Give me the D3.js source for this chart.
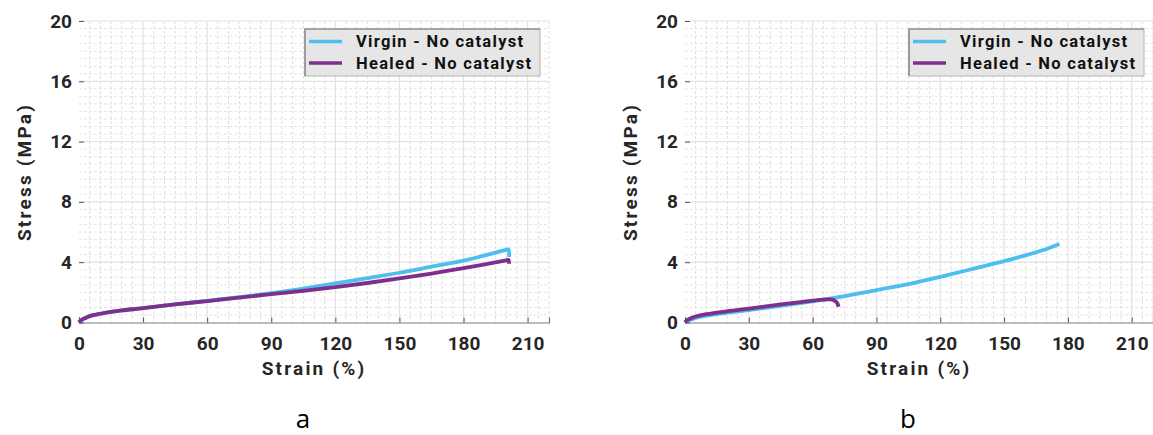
<!DOCTYPE html>
<html>
<head>
<meta charset="utf-8">
<script src="https://cdn.jsdelivr.net/npm/d3@7"></script>
<style>
  html, body { margin: 0; padding: 0; background: #fff; }
  svg { display: block; }
  .tick-label { font-family: Roboto, "Liberation Sans", sans-serif; font-weight: 700; font-size: 19px; fill: #262626; }
  .axis-title { font-family: Roboto, sans-serif; font-weight: 700; font-size: 19px; fill: #262626; letter-spacing: 2.2px; }
  .legend-text { font-family: Roboto, sans-serif; font-weight: 700; font-size: 16.5px; fill: #111; letter-spacing: 1.3px; }
  .panel-label { font-family: "Open Sans", "Liberation Sans", sans-serif; font-size: 26px; fill: #000; }
</style>
</head>
<body>
<svg id="chart" width="1153" height="435"></svg>
<script>
// ── Data ─────────────────────────────────────────────────────────────────────
const xTicks = [0, 30, 60, 90, 120, 150, 180, 210];
const yTicks = [0, 4, 8, 12, 16, 20];
const seriesNames = ['Virgin - No catalyst', 'Healed - No catalyst'];
const seriesColors = ['#4dbeee', '#7e2f8e'];

// panel a
const strainVirginA = [0, 1, 3, 5, 10, 15, 20, 30, 45, 60, 75, 90, 105, 120, 135, 150, 165, 180, 190, 200, 201, 201.3];
const stressVirginA = [0, 0.15, 0.3, 0.42, 0.58, 0.7, 0.8, 0.95, 1.2, 1.44, 1.68, 1.95, 2.25, 2.6, 2.95, 3.3, 3.7, 4.1, 4.45, 4.82, 4.85, 4.35];
const strainHealedA = [0, 1, 3, 5, 10, 15, 20, 30, 45, 60, 75, 90, 105, 120, 135, 150, 165, 180, 190, 200, 201, 201.3];
const stressHealedA = [0, 0.15, 0.3, 0.42, 0.58, 0.7, 0.8, 0.95, 1.2, 1.42, 1.65, 1.88, 2.1, 2.35, 2.62, 2.92, 3.25, 3.6, 3.85, 4.12, 4.15, 3.9];

// panel b
const strainVirginB = [0, 1, 3, 5, 10, 20, 30, 45, 60, 75, 90, 105, 120, 135, 150, 160, 170, 176];
const stressVirginB = [0, 0.1, 0.2, 0.3, 0.45, 0.65, 0.82, 1.1, 1.4, 1.75, 2.15, 2.55, 3.03, 3.55, 4.07, 4.45, 4.88, 5.2];
const strainHealedB = [0, 1, 3, 5, 10, 20, 30, 45, 60, 65, 68, 70, 71.5, 72.2];
const stressHealedB = [0, 0.15, 0.3, 0.4, 0.55, 0.75, 0.92, 1.2, 1.45, 1.52, 1.53, 1.48, 1.3, 1.05];

const panels = [
  { label: 'a', left: 79, right: 549, series: [[strainVirginA, stressVirginA], [strainHealedA, stressHealedA]] },
  { label: 'b', left: 685, right: 1153, series: [[strainVirginB, stressVirginB], [strainHealedB, stressHealedB]] }
];

const plotTop = 21, plotBottom = 322.5;
const svg = d3.select('#chart');

panels.forEach(p => {
  const x = d3.scaleLinear().domain([0, 220]).range([p.left, p.right]);
  const y = d3.scaleLinear().domain([0, 20]).range([plotBottom, plotTop]);
  const g = svg.append('g');

  // ── minor grid (dashed) ──
  g.append('g').selectAll('line').data(d3.range(5, 221, 5).filter(v => v % 30 !== 0))
    .join('line')
    .attr('x1', d => x(d)).attr('x2', d => x(d))
    .attr('y1', plotTop).attr('y2', plotBottom)
    .attr('stroke', '#dadada').attr('stroke-dasharray', '3,2').attr('stroke-width', 0.9);
  g.append('g').selectAll('line').data(d3.range(0.5, 20, 0.5).filter(v => v % 4 !== 0))
    .join('line')
    .attr('x1', p.left).attr('x2', p.right)
    .attr('y1', d => y(d)).attr('y2', d => y(d))
    .attr('stroke', '#dedede').attr('stroke-dasharray', '3,2').attr('stroke-width', 0.8);

  // ── major grid (solid) ──
  g.append('g').selectAll('line').data(xTicks.slice(1))
    .join('line')
    .attr('x1', d => x(d)).attr('x2', d => x(d))
    .attr('y1', plotTop).attr('y2', plotBottom)
    .attr('stroke', '#e2e2e2').attr('stroke-width', 1.2);
  g.append('g').selectAll('line').data(yTicks.slice(1))
    .join('line')
    .attr('x1', p.left).attr('x2', p.right)
    .attr('y1', d => y(d)).attr('y2', d => y(d))
    .attr('stroke', '#e2e2e2').attr('stroke-width', 1.2);

  // ── axes ──
  const xAxis = d3.axisBottom(x).tickValues(xTicks).tickSize(-5).tickPadding(8);
  const xg = g.append('g').attr('transform', `translate(0,${plotBottom})`).call(xAxis);
  xg.attr('font-size', null).attr('font-family', null);
  xg.select('.domain').attr('stroke', '#7a7a7a').attr('stroke-width', 1.2);
  xg.selectAll('.tick line').attr('stroke', '#555');
  xg.selectAll('.tick text').attr('class', 'tick-label').attr('dy', null).attr('y', 27);

  const yAxis = d3.axisLeft(y).tickValues(yTicks).tickSize(-5).tickPadding(8);
  const yg = g.append('g').attr('transform', `translate(${p.left},0)`).call(yAxis);
  yg.attr('font-size', null).attr('font-family', null);
  yg.select('.domain').remove();
  yg.selectAll('.tick line').attr('stroke', '#555');
  yg.selectAll('.tick text').attr('class', 'tick-label').attr('x', -7);

  // ── curves ──
  const line = d3.line().x(d => x(d[0])).y(d => y(d[1])).curve(d3.curveCatmullRom.alpha(0.5));
  p.series.forEach(([xs, ys], i) => {
    g.append('path')
      .datum(xs.map((v, k) => [v, ys[k]]))
      .attr('d', line)
      .attr('fill', 'none')
      .attr('stroke', seriesColors[i])
      .attr('stroke-width', 3.8)
      .attr('stroke-linejoin', 'round');
  });

  // ── axis titles ──
  g.append('text').attr('class', 'axis-title')
    .attr('x', (p.left + p.right) / 2).attr('y', 375)
    .attr('text-anchor', 'middle').text('Strain (%)');
  g.append('text').attr('class', 'axis-title')
    .attr('transform', `translate(${p.left - 48},${172}) rotate(-90)`)
    .attr('text-anchor', 'middle').text('Stress (MPa)');

  // ── legend ──
  const lx = p.right - 244, ly = 29, lw = 235, lh = 47;
  const lg = g.append('g').attr('transform', `translate(${lx},${ly})`);
  lg.append('rect').attr('width', lw).attr('height', lh)
    .attr('fill', '#e6e6e6').attr('stroke', '#b4b4b4').attr('stroke-width', 1);
  lg.append('path').attr('d', `M0,${lh}V0H${lw}`)
    .attr('fill', 'none').attr('stroke', '#7a7a7a').attr('stroke-width', 1.2);
  seriesNames.forEach((name, i) => {
    const yy = 12.5 + i * 21.5;
    lg.append('line').attr('x1', 4).attr('x2', 37).attr('y1', yy).attr('y2', yy)
      .attr('stroke', seriesColors[i]).attr('stroke-width', 3.5);
    lg.append('text').attr('class', 'legend-text')
      .attr('x', 51).attr('y', yy).attr('dy', '0.36em').text(name);
  });

  // ── panel label ──
  g.append('text').attr('class', 'panel-label')
    .attr('x', (p.left + p.right) / 2 - 11).attr('y', 428)
    .attr('text-anchor', 'middle').text(p.label);
});
</script>
</body>
</html>
